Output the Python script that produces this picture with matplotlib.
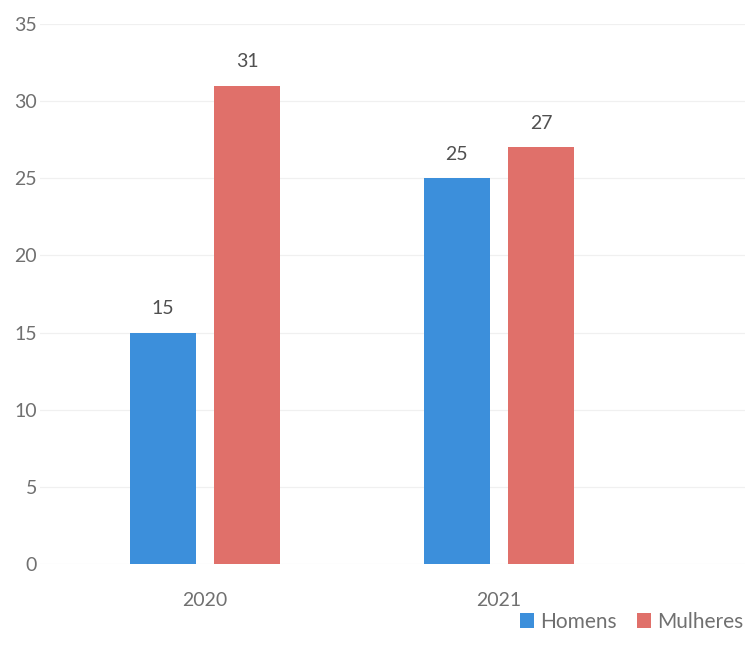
import matplotlib.pyplot as plt
import numpy as np

plt.rcParams['font.family'] = ['Lato', 'DejaVu Sans']

anos = ['2020', '2021']
homens = [15, 25]
mulheres = [31, 27]
series = ['Homens', 'Mulheres']

cor_homens = '#3c8fdb'
cor_mulheres = '#e0706a'
cinza = '#707070'

fig = plt.figure(figsize=(7.51, 6.59), dpi=100)
ax = fig.add_axes([40 / 751, 95 / 659, 705 / 751, 540 / 659])

x = np.arange(len(anos))
largura = 0.225
desloc = 0.143

b1 = ax.bar(x - desloc, homens, largura, color=cor_homens, label=series[0], zorder=2)
b2 = ax.bar(x + desloc, mulheres, largura, color=cor_mulheres, label=series[1], zorder=2)

# rótulos de valor acima das barras
for barras in (b1, b2):
    for b in barras:
        ax.annotate(f'{b.get_height():g}', (b.get_x() + b.get_width() / 2, b.get_height()),
                    xytext=(0, 11), textcoords='offset points', ha='center', va='bottom',
                    fontsize=14, color='#505050')

ax.set_ylim(0, 35)
ax.set_yticks(range(0, 36, 5))
ax.set_xlim(-0.561, 1.837)
ax.set_xticks(x)
ax.set_xticklabels(anos)

ax.yaxis.grid(True, color='#f0f0f0', linewidth=0.9, zorder=0)
ax.set_axisbelow(True)
for s in ax.spines.values():
    s.set_visible(False)
ax.tick_params(axis='both', length=0, labelsize=14, labelcolor=cinza)
ax.tick_params(axis='y', pad=2)
ax.tick_params(axis='x', pad=20)

leg = fig.legend(handles=[b1, b2], labels=series, loc='lower right',
                 bbox_to_anchor=(1.015, 0.013), ncol=2, frameon=False,
                 fontsize=15, handlelength=0.65, handleheight=0.7,
                 handletextpad=0.3, columnspacing=1.0)
for t in leg.get_texts():
    t.set_color(cinza)

fig.savefig('out.png', dpi=100)
